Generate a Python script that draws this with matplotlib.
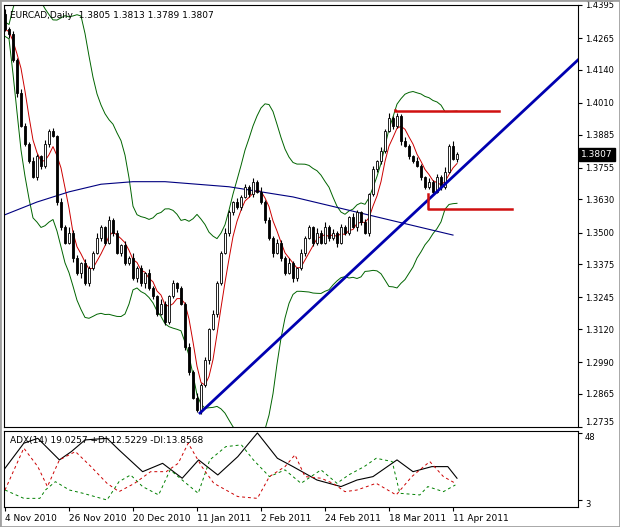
import numpy as np
import pandas as pd
import matplotlib.pyplot as plt

# daily closes, EURCAD
closes = [1.430, 1.428, 1.418, 1.405, 1.392, 1.385,
          1.378, 1.372, 1.380, 1.376, 1.385, 1.390, 1.388,
          1.362, 1.352, 1.346, 1.350, 1.340, 1.334, 1.338, 1.330, 1.336, 1.342,
          1.348, 1.352, 1.346, 1.355, 1.350, 1.342, 1.345, 1.338, 1.340, 1.332,
          1.336, 1.330, 1.334, 1.328, 1.325, 1.318, 1.322, 1.315, 1.325, 1.330,
          1.328, 1.322, 1.305, 1.295, 1.285, 1.280, 1.290, 1.300, 1.312, 1.318,
          1.330, 1.342, 1.350, 1.358, 1.362, 1.360, 1.364, 1.368, 1.365, 1.370,
          1.366, 1.362, 1.355, 1.348, 1.342, 1.346, 1.340, 1.334, 1.338, 1.332,
          1.336, 1.342, 1.348, 1.352, 1.346, 1.350, 1.346, 1.352, 1.348, 1.350,
          1.346, 1.352, 1.350, 1.356, 1.352, 1.358, 1.354, 1.350, 1.365, 1.375,
          1.378, 1.382, 1.390, 1.395, 1.392, 1.396, 1.386, 1.384, 1.380, 1.378,
          1.376, 1.372, 1.368, 1.370, 1.366, 1.372, 1.368, 1.374, 1.384, 1.379, 1.3807]
first_open = 1.436
# wick sizes in pips (upper, lower), repeating pattern
wick_up = [20, 8, 12, 5, 15, 10, 6, 18, 9, 4, 14, 7, 11, 5, 16, 8]
wick_dn = [6, 14, 9, 17, 5, 11, 8, 4, 15, 10, 7, 13, 5, 12, 9, 6]

# long blue moving average, sampled every 8 bars
blue_ma = [1.357, 1.362, 1.366, 1.369, 1.370, 1.370, 1.369, 1.368, 1.366,
           1.364, 1.361, 1.358, 1.355, 1.352, 1.349]

# ADX(14) panel: (bar, value)
adx_x = [0, 4.7, 8.2, 13.6, 16.6, 20, 25.5, 28.5, 34.4, 39.4, 44.3, 48.4, 53.2,
         58.2, 63.1, 68.1, 72, 78, 84, 88, 92, 98, 102, 106.7, 110.7, 113]
adx_v = [24.3, 41.1, 44.4, 29.9, 35.5, 43.3, 44.4, 36.6, 22.0, 27.6, 17.6, 29.9, 19.8,
         32.1, 48.0, 31.0, 25.4, 16.4, 12.0, 16.4, 18.7, 29.9, 22.0, 25.4, 25.4, 17.6]
mdi_x = [0, 4.7, 8.2, 10.6, 13.6, 17.6, 21.5, 25.5, 28.5, 32.4, 36.4, 40.3, 43.3, 45.8,
         49.2, 52.2, 58.2, 63.1, 66.1, 70, 72.5, 75, 79, 82, 85, 88, 92.8, 97.8, 101.7,
         106.2, 109.6, 112.6]
mdi_v = [9.7, 37.8, 25.4, 12.0, 29.9, 35.5, 25.4, 14.2, 8.6, 14.2, 22.0, 22.0, 27.6, 41.1,
         25.4, 14.2, 5.3, 4.1, 18.7, 25.4, 33.3, 18.7, 17.6, 14.2, 8.6, 9.7, 14.2, 6.4, 18.7,
         28.8, 18.7, 14.2]
pdi_x = [0, 4.7, 8.7, 10.1, 12.6, 16.1, 19.5, 25.5, 28.5, 31.4, 34.4, 38.4, 41.3, 44.3,
         48.3, 51.2, 55.2, 59.1, 62.1, 66.1, 70, 74, 79, 83, 85.9, 89.8, 92.8, 96.8, 98.7,
         103.7, 105.7, 109.6, 112.6]
pdi_v = [9.7, 4.1, 4.1, 9.7, 15.3, 9.7, 7.5, 3.0, 15.3, 19.8, 12.0, 6.4, 23.2, 16.4,
         7.5, 29.9, 38.8, 40.0, 29.9, 18.7, 23.2, 14.2, 23.2, 14.2, 19.8, 25.4, 31.0, 28.8, 7.5,
         6.4, 12.0, 8.6, 13.1]

date_labels = ['4 Nov 2010', '26 Nov 2010', '20 Dec 2010', '11 Jan 2011',
               '2 Feb 2011', '24 Feb 2011', '18 Mar 2011', '11 Apr 2011']
price_ticks = [1.4395, 1.4265, 1.4140, 1.4010, 1.3885, 1.3755, 1.3630, 1.3500,
               1.3375, 1.3245, 1.3120, 1.2990, 1.2865, 1.2735]

trend_x = [48.75, 143.25]
trend_y = [1.2790, 1.4179]
top_line = (97.5, 123.5, 1.3978)
bot_line = (105.75, 126.75, 1.3593)

n = len(closes)
c = np.array(closes)
o = np.r_[first_open, c[:-1]]
wu = np.array([wick_up[i % len(wick_up)] for i in range(n)]) / 10000
wd = np.array([wick_dn[i % len(wick_dn)] for i in range(n)]) / 10000
h = np.maximum(o, c) + wu
l = np.minimum(o, c) - wd
x = np.arange(n)

s = pd.Series(c)
ma_red = s.rolling(5, min_periods=1).mean()
mid = s.rolling(20, min_periods=1).mean()
sd = s.rolling(20, min_periods=2).std().bfill()
up_band, lo_band = mid + 2 * sd, mid - 2 * sd

fig = plt.figure(figsize=(6.2, 5.27), dpi=100)
W, H = 620, 527
ax = fig.add_axes([4 / W, 1 - 427 / H, 574 / W, 422 / H])
ax2 = fig.add_axes([4 / W, 1 - 507 / H, 574 / W, 76 / H])
xmax = 143.25
for a_ in (ax, ax2):
    a_.set_xlim(-0.25, xmax)
    a_.yaxis.tick_right()
    a_.tick_params(axis='y', labelsize=6, length=3, pad=2)
    for sp in a_.spines.values():
        sp.set_linewidth(0.8)
ax.set_ylim(1.2735, 1.4395)

# candles
ax.vlines(x, l, h, color='black', lw=0.8, zorder=3)
upc = c >= o
ax.bar(x[upc], (c - o)[upc], bottom=o[upc], width=0.55, color='white', edgecolor='black', lw=0.6, zorder=4)
ax.bar(x[~upc], (o - c)[~upc], bottom=c[~upc], width=0.55, color='black', edgecolor='black', lw=0.6, zorder=4)

ax.plot(x, ma_red, color='#cc0000', lw=0.7, zorder=2)
ax.plot(x, up_band, color='#006400', lw=0.7, zorder=2)
ax.plot(x, lo_band, color='#006400', lw=0.7, zorder=2)
ax.plot(np.arange(len(blue_ma)) * 8, blue_ma, color='#000080', lw=0.8, zorder=2)
ax.plot(trend_x, trend_y, color='#0000b0', lw=2, zorder=5)
ax.plot([top_line[0], top_line[0], top_line[1]], [top_line[2] + 0.0004, top_line[2], top_line[2]], color='#d01010', lw=1.8, zorder=5)
ax.plot([bot_line[0], bot_line[0], bot_line[1]], [bot_line[2] + 0.006, bot_line[2], bot_line[2]], color='#d01010', lw=1.8, zorder=5)

ax.set_yticks(price_ticks)
ax.set_yticklabels(['%.4f' % p for p in price_ticks])
ax.get_yticklabels()[-1].set_va('bottom')
ax.set_xticks([])
ax.text(1.005, (c[-1] - 1.2735) / (1.4395 - 1.2735), '%.4f' % c[-1], transform=ax.transAxes,
        fontsize=6.5, color='white', va='center', ha='left',
        bbox=dict(boxstyle='square,pad=0.25', fc='black', ec='black'))
ax.text(0.01, 0.985, 'EURCAD,Daily  1.3805 1.3813 1.3789 1.3807', transform=ax.transAxes,
        fontsize=6.5, va='top')

ax2.plot(adx_x, adx_v, color='black', lw=0.8)
ax2.plot(pdi_x, pdi_v, color='#008000', lw=0.7, ls=(0, (3, 3)))
ax2.plot(mdi_x, mdi_v, color='#cc0000', lw=0.7, ls=(0, (3, 3)))
ax2.set_ylim(-1.7, 49.3)
ax2.set_yticks([3, 48])
for t in ax2.get_yticklabels():
    t.set_va('top')
ax2.set_xticks(np.arange(len(date_labels)) * 16)
ax2.set_xticklabels(date_labels, fontsize=6.5, ha='left')
ax2.tick_params(axis='x', length=3, pad=2)
ax2.text(0.01, 0.93, 'ADX(14) 19.0257 +DI:12.5229 -DI:13.8568', transform=ax2.transAxes,
         fontsize=6.5, va='top')

fig.patches.append(plt.Rectangle((0, 0), 1, 1, transform=fig.transFigure, fill=False,
                                 ec='#a0a0a0', lw=2))
fig.savefig('out.png', dpi=100, facecolor='white')
